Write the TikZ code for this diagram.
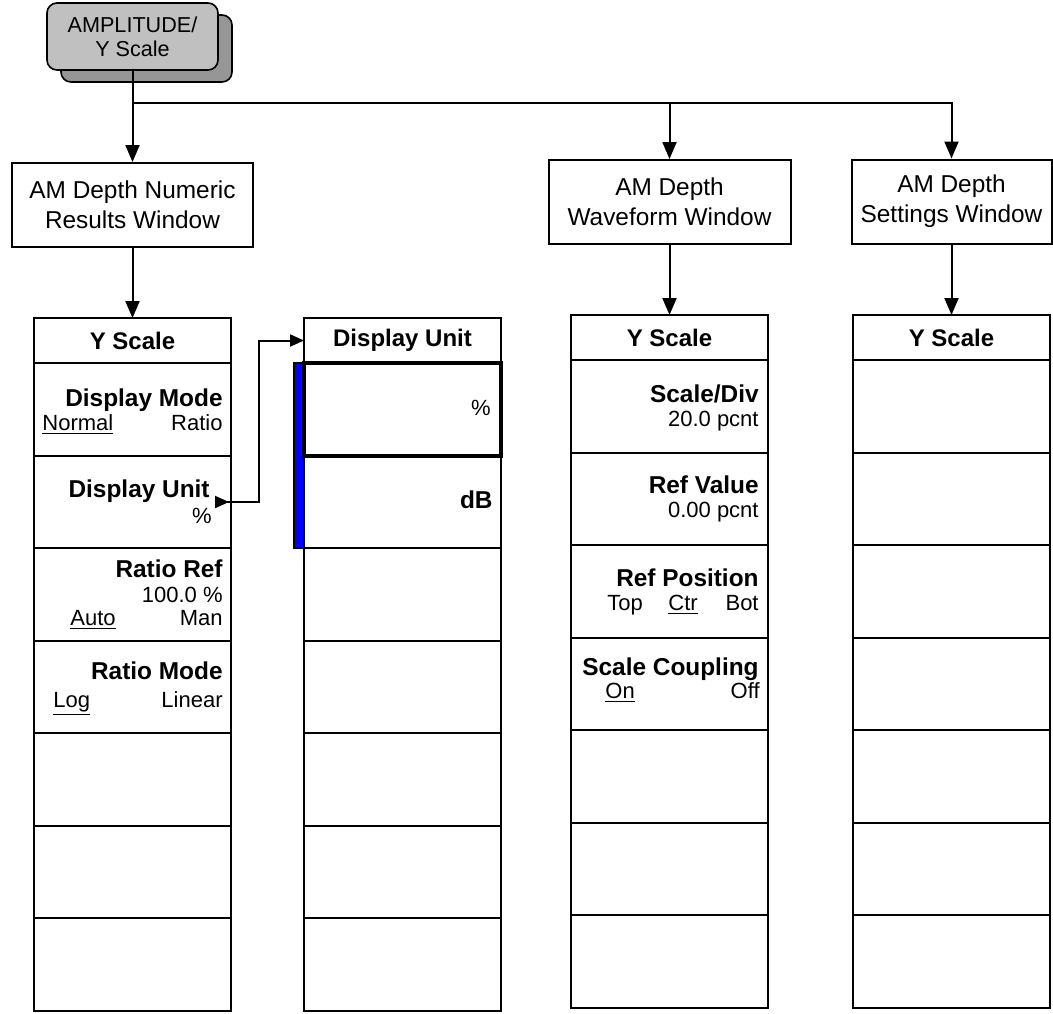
\documentclass[tikz,border=0pt]{standalone}
\usepackage{fontspec}
\setmainfont{Liberation Sans}
\usetikzlibrary{arrows.meta,positioning,calc}
\definecolor{KeyGray}{RGB}{192,192,192}
\definecolor{ShadowGray}{RGB}{150,150,150}
\definecolor{BarBlue}{RGB}{0,0,255}
\tikzset{
  hardkey/.style={draw,fill=KeyGray,rounded corners=5pt,line width=0.8pt,
    minimum width=85.5pt,minimum height=33.5pt,align=center,inner sep=0pt,
    font=\fontsize{10.8}{12}\selectfont},
  keyshadow/.style={draw,fill=ShadowGray,rounded corners=5pt,line width=0.8pt,
    minimum width=85.5pt,minimum height=33.5pt},
  window/.style={draw,line width=1pt,minimum height=42pt,align=center,
    inner sep=0pt,font=\fontsize{12.2}{15}\selectfont},
  menuhead/.style={draw,line width=1pt,outer sep=0pt,inner sep=0pt,
    minimum width=98.5pt,minimum height=22.5pt,anchor=north west,
    font=\bfseries\fontsize{12}{14}\selectfont},
  softkey/.style={draw,line width=1pt,outer sep=0pt,inner sep=0pt,
    minimum width=98.5pt,minimum height=46.25pt},
  softtitle/.style={inner sep=0pt,font=\bfseries\fontsize{12.2}{14}\selectfont},
  softopt/.style={inner sep=0pt,font=\fontsize{11}{13}\selectfont},
  arrow/.style={-{Triangle[length=8.5pt,width=7pt]},line width=1pt},
  subarrow/.style={{Triangle[length=7pt,width=6pt,reversed]}-{Triangle[length=7pt,width=6pt]},
    line width=1pt}
}
\begin{document}
\begin{tikzpicture}[x=0.5pt,y=-0.5pt]
  \useasboundingbox (0,0) rectangle (1053,1013);
  % front panel key
  \node[keyshadow] (ampshadow) at (146.5,48.5) {};
  \node[hardkey] (amp) at (132.5,36.5) {AMPLITUDE/\\Y Scale};
  % measurement windows
  \node[window,minimum width=120.5pt] (numwin) at (132.5,205) {AM Depth Numeric\\Results Window};
  \node[window,minimum width=121pt] (wavewin) at (669.5,202) {AM Depth\\Waveform Window};
  \node[window,minimum width=100pt] (setwin) at (951.5,201.5) {AM Depth\\Settings Window};
  % menus
  \foreach \m/\x/\y/\t in {num/34/318/Y Scale,unit/304/318/Display Unit,
      wave/571/315/Y Scale,set/853/315/Y Scale} {
    \node[menuhead] (\m0) at (\x,\y) {\t};
    \foreach \i [remember=\i as \last (initially 0)] in {1,...,7}
      \node[softkey,below=0pt of \m\last] (\m\i) {};
  }
  \draw[fill=BarBlue,line width=0.6pt] ($(unit1.north west)+(-10,0)$) rectangle (unit2.south west);
  \draw[line width=2pt] (unit1.north west) rectangle (unit1.south east);
  % Y Scale keys, numeric results
  \node[softtitle,anchor=base east] (dmode) at (223,406) {Display Mode};
  \node[softopt,anchor=base west] (dmodea) at (42,430) {\underline{Normal}};
  \node[softopt,anchor=base east] (dmodeb) at (223,430) {Ratio};
  \node[softtitle,anchor=base east] (dunit) at (210,497) {Display Unit};
  \node[softopt,anchor=base east] (dunitv) at (212,523) {\%};
  \node[softtitle,anchor=base east] (rref) at (223,577) {Ratio Ref};
  \node[softopt,anchor=base east] (rrefv) at (223,602) {100.0 \%};
  \node[softopt,anchor=base west] (rrefa) at (70,625) {\underline{Auto}};
  \node[softopt,anchor=base east] (rrefb) at (223,625) {Man};
  \node[softtitle,anchor=base east] (rmode) at (223,679) {Ratio Mode};
  \node[softopt,anchor=base west] (rmodea) at (53,707) {\underline{Log}};
  \node[softopt,anchor=base east] (rmodeb) at (223,707) {Linear};
  % Display Unit keys
  \node[softopt,anchor=base east] (upct) at (491,415) {\%};
  \node[softtitle,anchor=base east] (udb) at (493,508) {dB};
  % Y Scale keys, waveform
  \node[softtitle,anchor=base east] (sdiv) at (759,402) {Scale/Div};
  \node[softopt,anchor=base east] (sdivv) at (759,426) {20.0 pcnt};
  \node[softtitle,anchor=base east] (rval) at (759,493) {Ref Value};
  \node[softopt,anchor=base east] (rvalv) at (759,517) {0.00 pcnt};
  \node[softtitle,anchor=base east] (rpos) at (759,586) {Ref Position};
  \node[softopt,anchor=base west] (rposa) at (607,610) {Top};
  \node[softopt,anchor=base west] (rposb) at (668,610) {\underline{Ctr}};
  \node[softopt,anchor=base east] (rposc) at (759,610) {Bot};
  \node[softtitle,anchor=base east] (scpl) at (759,675) {Scale Coupling};
  \node[softopt,anchor=base west] (scpla) at (605,698) {\underline{On}};
  \node[softopt,anchor=base east] (scplb) at (760,698) {Off};
  % connectors
  \coordinate (split) at (132.5,103);
  \draw[line width=1pt] (amp.south) -- (split);
  \draw[arrow] (split) -- (numwin.north);
  \draw[arrow] (split) -| (wavewin.north);
  \draw[arrow] (split) -| (setwin.north);
  \draw[arrow] (numwin.south) -- (num0.north);
  \draw[arrow] (wavewin.south) -- (wave0.north);
  \draw[arrow] (setwin.south) -- (set0.north);
  \coordinate (unitout) at (215,502);
  \draw[subarrow] (unitout) -- ++(44,0) |- (unit0.west);
\end{tikzpicture}
\end{document}
